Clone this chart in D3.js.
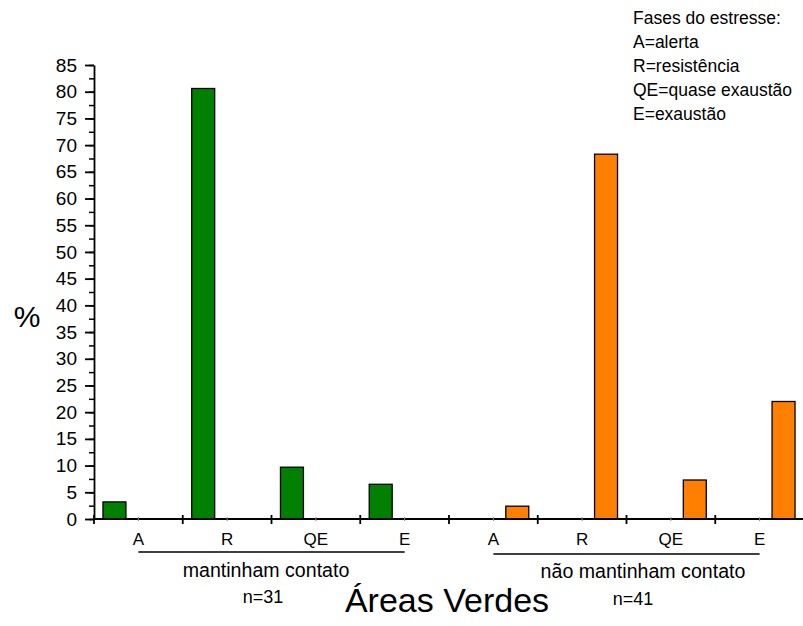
<!DOCTYPE html>
<html>
<head>
<meta charset="utf-8">
<script src="https://cdn.jsdelivr.net/npm/d3@7"></script>
<style>
  html, body { margin: 0; padding: 0; background: #fff; }
  svg { display: block; font-family: "Liberation Sans", Arial, sans-serif; }
</style>
</head>
<body>
<svg id="chart" width="803" height="626"></svg>
<script>
// ---- data ----
const phases = ["A", "R", "QE", "E"];
const groups = ["mantinham contato", "não mantinham contato"];
const groupN = ["n=31", "n=41"];
const greenValues = [3.2, 80.6, 9.7, 6.5];    // mantinham contato (%)
const orangeValues = [2.4, 68.3, 7.3, 22.0];  // não mantinham contato (%)
const seriesKeys = ["mantinham", "naoMantinham"];
const seriesColors = ["#008000", "#FF8000"];
const yTicks = [0, 5, 10, 15, 20, 25, 30, 35, 40, 45, 50, 55, 60, 65, 70, 75, 80, 85];
const legendLines = ["Fases do estresse:", "A=alerta", "R=resistência", "QE=quase exaustão", "E=exaustão"];
const xTitle = "Áreas Verdes";
const yTitle = "%";

(function () {
// ---- build rows ----
const rows = [];
groups.forEach((g, gi) => {
  phases.forEach((p, pi) => {
    rows.push({
      key: gi + "-" + p, phase: p, group: gi,
      series: seriesKeys[gi],
      value: gi === 0 ? greenValues[pi] : orangeValues[pi]
    });
  });
});

const svg = d3.select("#chart");
const mLeft = 94, mRight = 804, mTop = 65, mBottom = 519;

const x0 = d3.scaleBand().domain(rows.map(d => d.key)).range([mLeft, mRight]).padding(0);
const x1 = d3.scaleBand().domain(seriesKeys).range([0, x0.bandwidth()])
  .paddingInner(0.52).paddingOuter(0.1875);
const y = d3.scaleLinear().domain([0, 85]).range([mBottom, mTop]);
const color = d3.scaleOrdinal().domain(seriesKeys).range(seriesColors);

// bars
svg.append("g").selectAll("rect").data(rows).join("rect")
  .attr("x", d => x0(d.key) + x1(d.series))
  .attr("y", d => y(d.value))
  .attr("width", x1.bandwidth())
  .attr("height", d => y(0) - y(d.value))
  .attr("fill", d => color(d.series))
  .attr("stroke", "#000")
  .attr("stroke-width", 1.3);

// y axis: minor ticks
const minorTicks = d3.range(0, 85.01, 2.5);
const yMinor = svg.append("g").attr("transform", `translate(${mLeft},0)`)
  .call(d3.axisLeft(y).tickValues(minorTicks).tickSize(5).tickFormat(""));
yMinor.select(".domain").remove();
yMinor.selectAll("line").attr("stroke", "#000").attr("stroke-width", 1.5);

const yAxis = svg.append("g").attr("transform", `translate(${mLeft},0)`)
  .call(d3.axisLeft(y).tickValues(yTicks).tickSize(9).tickSizeOuter(0).tickPadding(8));
yAxis.select(".domain").attr("stroke", "#000").attr("stroke-width", 1.8);
yAxis.selectAll(".tick line").attr("stroke", "#000").attr("stroke-width", 1.8);
yAxis.selectAll(".tick text").attr("font-size", 19).attr("fill", "#000")
  .attr("font-family", "Liberation Sans, Arial, sans-serif");

// x axis
const xAxisG = svg.append("g");
xAxisG.append("line").attr("x1", mLeft).attr("x2", 803).attr("y1", y(0)).attr("y2", y(0))
  .attr("stroke", "#000").attr("stroke-width", 1.8);
const boundaries = rows.map(d => x0(d.key)).concat([x0(rows[rows.length - 1].key) + x0.bandwidth()]);
xAxisG.selectAll("line.major").data(boundaries).join("line").attr("class", "major")
  .attr("x1", d => d).attr("x2", d => d)
  .attr("y1", y(0) - 4).attr("y2", y(0) + 5)
  .attr("stroke", "#000").attr("stroke-width", 1.8);
xAxisG.selectAll("line.minor").data(rows).join("line").attr("class", "minor")
  .attr("x1", d => x0(d.key) + x0.bandwidth() / 2).attr("x2", d => x0(d.key) + x0.bandwidth() / 2)
  .attr("y1", y(0) - 2).attr("y2", y(0) + 2)
  .attr("stroke", "#888").attr("stroke-width", 1);

// phase labels
svg.append("g").selectAll("text").data(rows).join("text")
  .attr("x", d => x0(d.key) + x0.bandwidth() / 2)
  .attr("y", 545)
  .attr("text-anchor", "middle")
  .attr("font-size", 17)
  .text(d => d.phase);

// group underline and labels
groups.forEach((g, gi) => {
  const gRows = rows.filter(d => d.group === gi);
  const xa = x0(gRows[0].key) + x0.bandwidth() / 2;
  const xb = x0(gRows[gRows.length - 1].key) + x0.bandwidth() / 2;
  const ly = gi === 0 ? 552 : 554;
  svg.append("line").attr("x1", xa).attr("x2", xb).attr("y1", ly).attr("y2", ly)
    .attr("stroke", "#000").attr("stroke-width", 1.3);
  svg.append("text").attr("x", gi === 0 ? 266 : 643).attr("y", gi === 0 ? 577 : 578)
    .attr("text-anchor", "middle").attr("font-size", 19.6).text(g);
  svg.append("text").attr("x", gi === 0 ? 263 : 633).attr("y", gi === 0 ? 603 : 605)
    .attr("text-anchor", "middle").attr("font-size", 18).text(groupN[gi]);
});

// axis titles
svg.append("text").attr("x", 447).attr("y", 612).attr("text-anchor", "middle")
  .attr("font-size", 34).text(xTitle);
svg.append("text").attr("x", 27).attr("y", 327).attr("text-anchor", "middle")
  .attr("font-size", 30).text(yTitle);

// legend note
svg.append("g").selectAll("text").data(legendLines).join("text")
  .attr("x", 633).attr("y", (d, i) => 24 + i * 24)
  .attr("font-size", 17.5).text(d => d);
})();
</script>
</body>
</html>
